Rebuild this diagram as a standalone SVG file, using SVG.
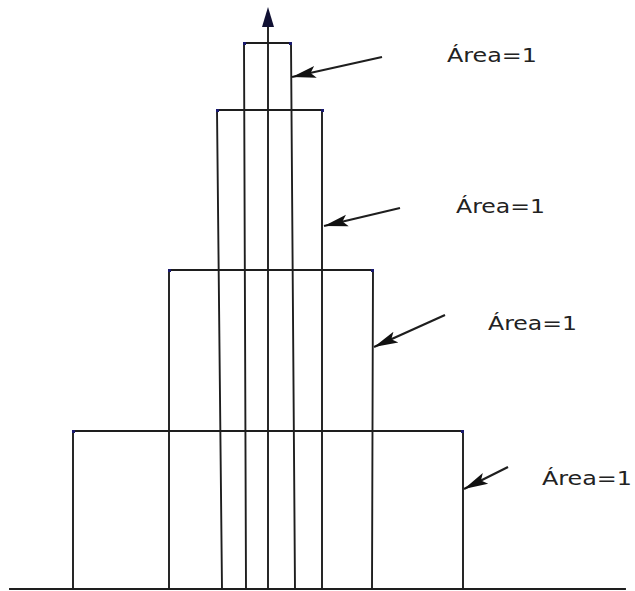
<svg xmlns="http://www.w3.org/2000/svg" width="635" height="591" viewBox="0 0 635 591">
<style>
.ln{stroke:#1e1e1e;stroke-width:1.9;fill:none;stroke-linecap:square}
.ar{stroke:#1e1e1e;stroke-width:2.2;fill:none}
.lb{font-family:"DejaVu Sans",Verdana,sans-serif;font-size:19px;fill:#222}
.cn{fill:#1a1a6e}
</style>
<defs>
<marker id="ah" markerUnits="userSpaceOnUse" markerWidth="26" markerHeight="14" refX="24" refY="7" orient="auto">
<path d="M0,1 L24,7 L0,13 L5,7 z" fill="#111"/>
</marker>
</defs>
<rect width="635" height="591" fill="#fff"/>
<g id="baseline"><line class="ln" x1="10" y1="589" x2="625" y2="589"/></g>
<g id="axis">
<line class="ln" x1="268" y1="20" x2="268" y2="589"/>
<polygon points="268,7 274,27 262,27" fill="#111133"/>
</g>
<g id="step1">
<polyline class="ln" points="246,589 244,43 291,43 295,589"/>
<rect class="cn" x="243" y="42" width="3" height="3"/><rect class="cn" x="289" y="42" width="3" height="3"/>
</g>
<g id="step2">
<polyline class="ln" points="222,589 217,110 322,110 322,589"/>
<rect class="cn" x="216" y="109" width="3" height="3"/><rect class="cn" x="321" y="109" width="3" height="3"/>
</g>
<g id="step3">
<polyline class="ln" points="169,589 169,270 373,270 372,589"/>
<rect class="cn" x="168" y="269" width="3" height="3"/><rect class="cn" x="371" y="269" width="3" height="3"/>
</g>
<g id="step4">
<polyline class="ln" points="73,589 73,431 463,431 463,589"/>
<rect class="cn" x="72" y="430" width="3" height="3"/><rect class="cn" x="461" y="430" width="3" height="3"/>
</g>
<g id="connectors">
<line class="ar" x1="382" y1="57" x2="292" y2="77" marker-end="url(#ah)"/>
<line class="ar" x1="400" y1="208" x2="324" y2="226" marker-end="url(#ah)"/>
<line class="ar" x1="445" y1="315" x2="374" y2="347" marker-end="url(#ah)"/>
<line class="ar" x1="508" y1="467" x2="464" y2="489" marker-end="url(#ah)"/>
</g>
<g id="labels">
<text class="lb" x="447" y="62" textLength="90" lengthAdjust="spacingAndGlyphs">Área=1</text>
<text class="lb" x="456" y="213" textLength="89" lengthAdjust="spacingAndGlyphs">Área=1</text>
<text class="lb" x="488" y="330" textLength="89" lengthAdjust="spacingAndGlyphs">Área=1</text>
<text class="lb" x="542" y="485" textLength="90" lengthAdjust="spacingAndGlyphs">Área=1</text>
</g>
</svg>
